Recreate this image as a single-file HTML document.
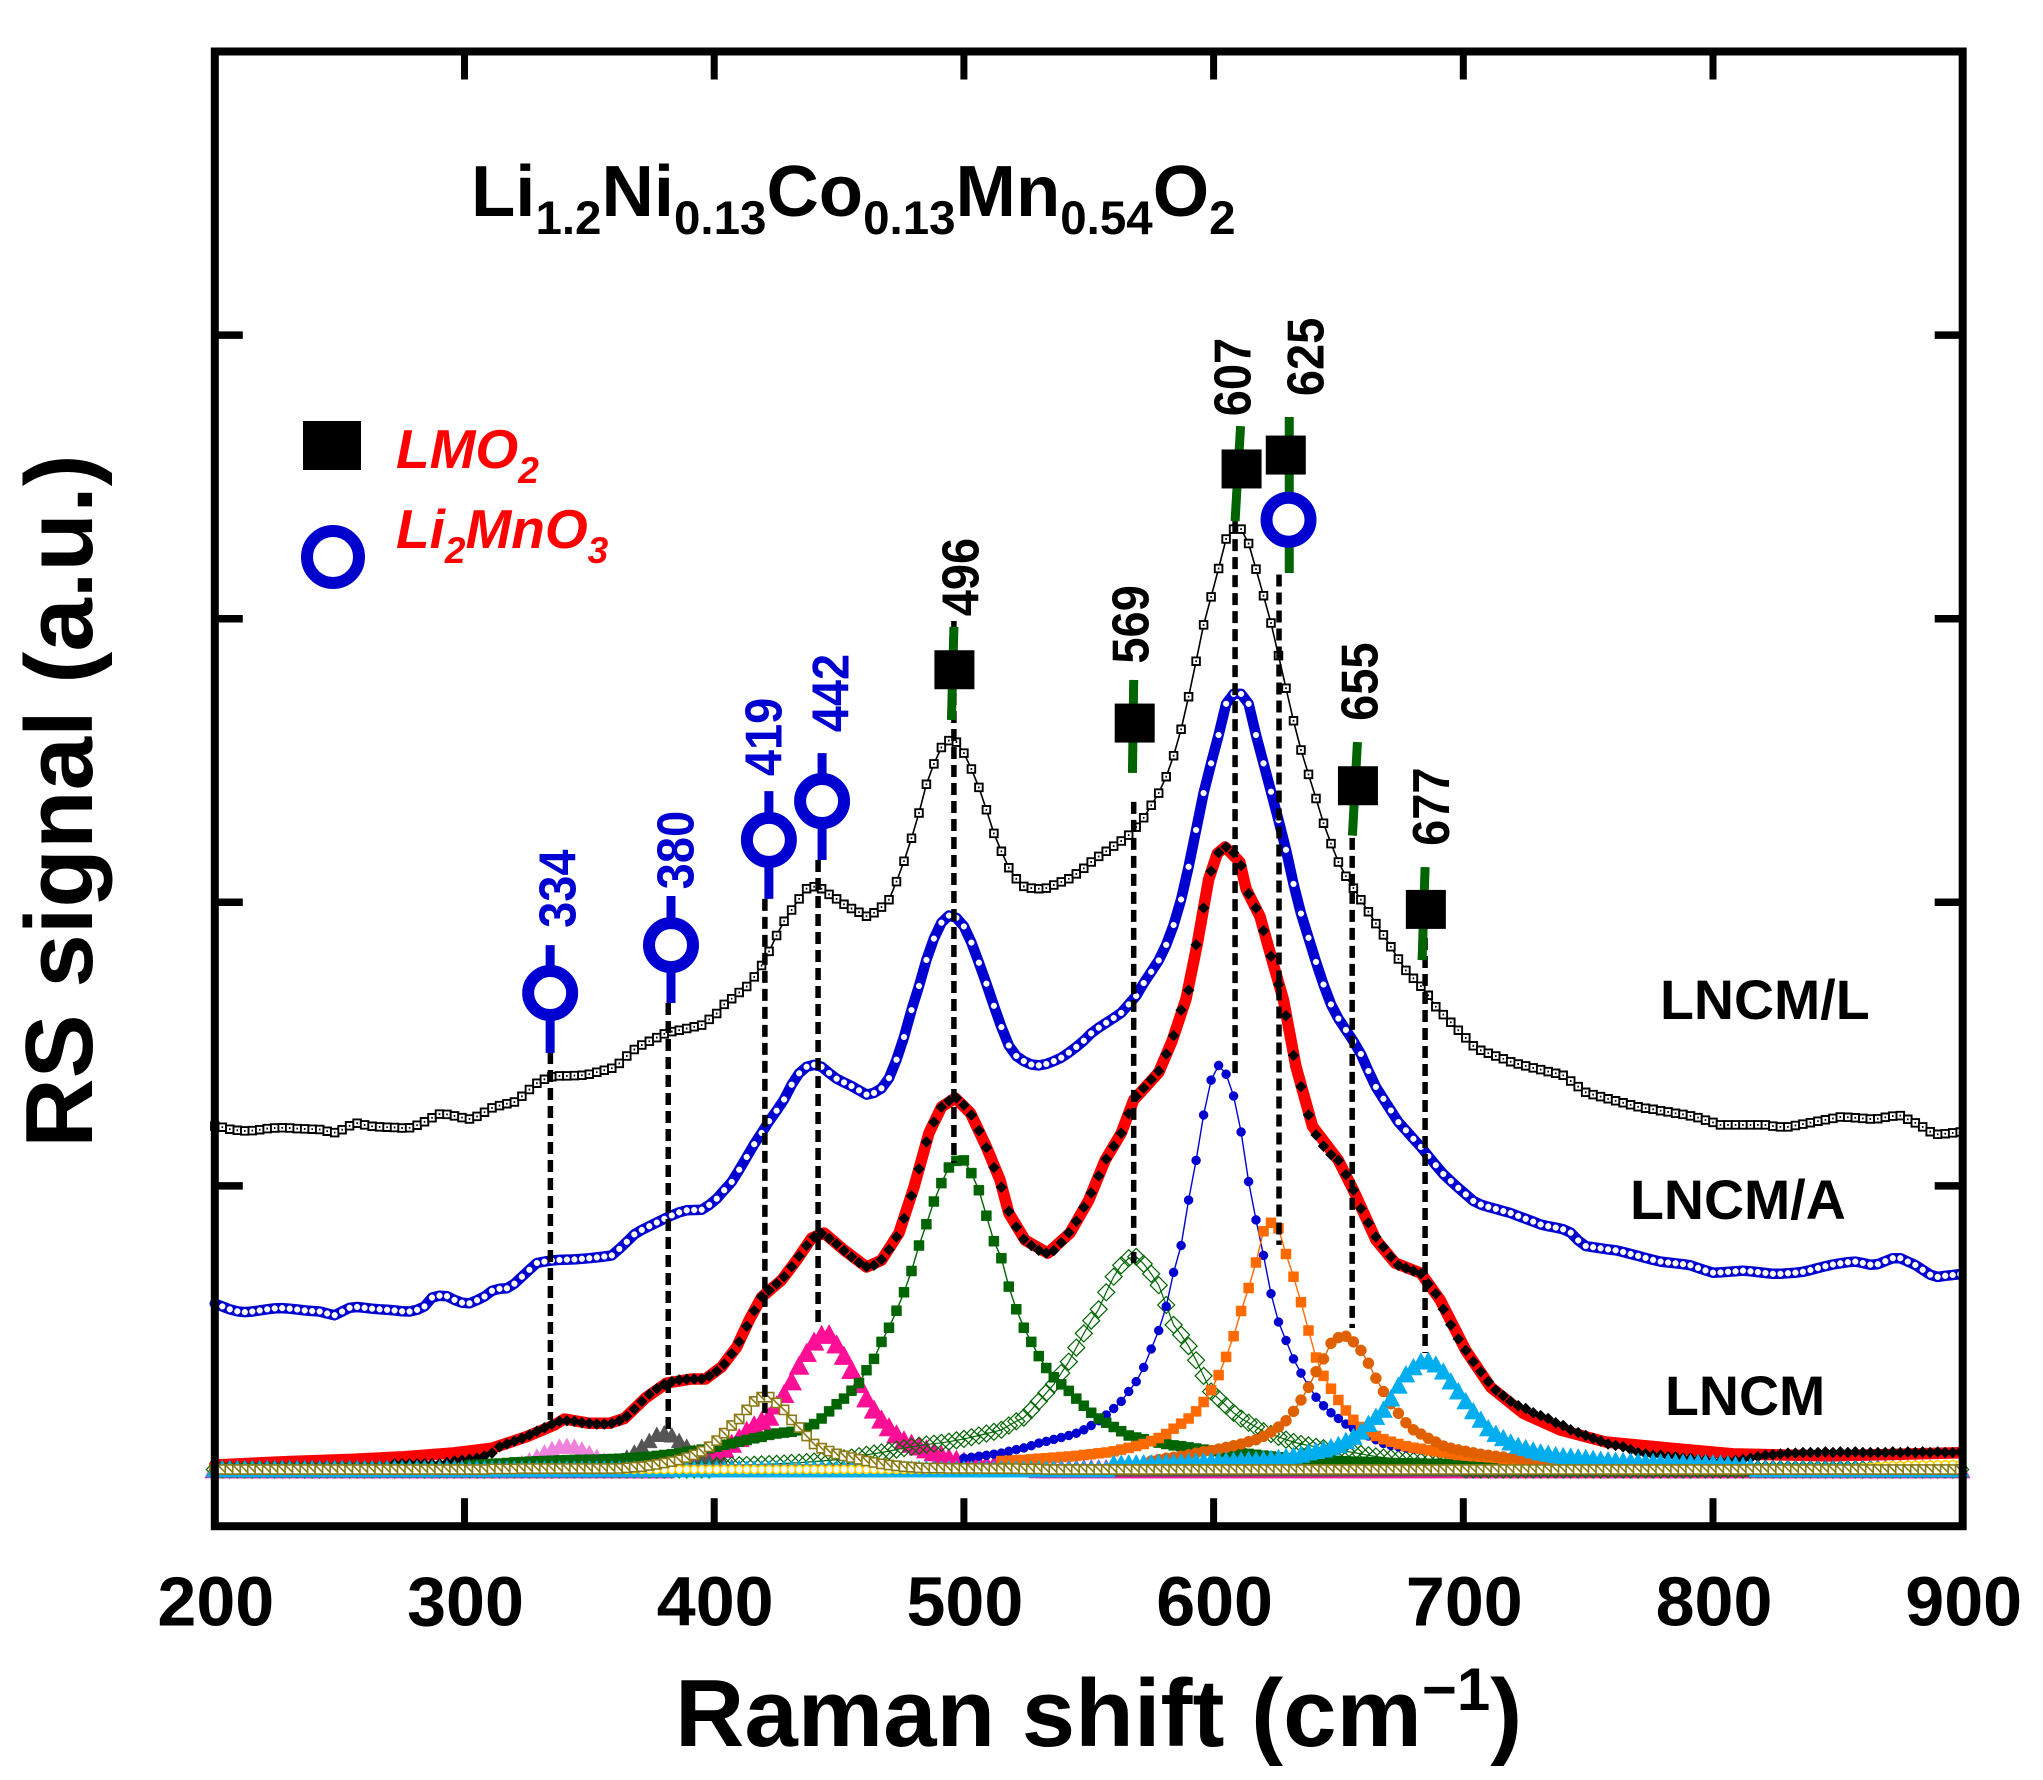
<!DOCTYPE html>
<html>
<head>
<meta charset="utf-8">
<title>Raman spectra of LNCM</title>
<style>
html,body{margin:0;padding:0;background:#fff;}
svg{display:block;}
text{font-family:"Liberation Sans",Arial,sans-serif;font-weight:bold;}
</style>
</head>
<body>
<svg id="chart" xmlns="http://www.w3.org/2000/svg" width="2043" height="1780" viewBox="0 0 2043 1780">
<rect x="0" y="0" width="2043" height="1780" fill="#fff"/>
<g id="lncm-l"></g>
<g id="lncm-a"></g>
<g id="lncm-fit"></g>
<g id="lncm-data"></g>
<g id="comp-hotpink"></g>
<g id="comp-violet"></g>
<g id="comp-gray"></g>
<g id="comp-opendiamond"></g>
<g id="comp-blue"></g>
<g id="comp-dkgreen"></g>
<g id="comp-orange"></g>
<g id="comp-dkorange"></g>
<g id="comp-cyan"></g>
<g id="comp-yellow"></g>
<g id="comp-olive"></g>
<g id="peak-lines"></g>
<g id="peak-stems"></g>
<g id="peak-markers"></g>
<g id="peak-labels"></g>
<g id="axes"></g>

<text transform="translate(92,801) rotate(-90)" text-anchor="middle" font-size="96" fill="#000">RS signal (a.u.)</text>
<text x="675" y="1746" font-size="96" fill="#000">Raman shift (cm<tspan font-size="60" dy="-36">−1</tspan><tspan dy="36">)</tspan></text>
<text x="471" y="216" font-size="72.5" fill="#000">Li<tspan font-size="47.5" dy="18">1.2</tspan><tspan dy="-18">Ni</tspan><tspan font-size="47.5" dy="18">0.13</tspan><tspan dy="-18">Co</tspan><tspan font-size="47.5" dy="18">0.13</tspan><tspan dy="-18">Mn</tspan><tspan font-size="47.5" dy="18">0.54</tspan><tspan dy="-18">O</tspan><tspan font-size="47.5" dy="18">2</tspan></text>

<rect x="303" y="421" width="58" height="49" fill="#000"/>
<text x="396" y="468" font-size="55" font-style="italic" fill="#ff0000">LMO<tspan font-size="37" dy="15">2</tspan></text>
<circle cx="333" cy="557" r="26" fill="none" stroke="#0000cc" stroke-width="12"/>
<text x="396" y="548" font-size="55" font-style="italic" fill="#ff0000">Li<tspan font-size="37" dy="15">2</tspan><tspan dy="-15">MnO</tspan><tspan font-size="37" dy="15">3</tspan></text>

<text x="1660" y="1019" font-size="55.5" fill="#000">LNCM/L</text>
<text x="1630" y="1219" font-size="55.5" fill="#000">LNCM/A</text>
<text x="1665" y="1415" font-size="55.5" fill="#000">LNCM</text>
</svg>

<script>
const xTicks=[200,300,400,500,600,700,800,900];
const yTicks=[1,2,3,4];

const shifts=[200,203,206,209,212,215,218,221,224,227,230,233,236,239,242,245,248,251,254,257,260,263,266,269,272,275,278,281,284,287,290,293,296,299,302,305,308,311,314,317,320,323,326,329,332,335,338,341,344,347,350,353,356,359,362,365,368,371,374,377,380,383,386,389,392,395,398,401,404,407,410,413,416,419,422,425,428,431,434,437,440,443,446,449,452,455,458,461,464,467,470,473,476,479,482,485,488,491,494,497,500,503,506,509,512,515,518,521,524,527,530,533,536,539,542,545,548,551,554,557,560,563,566,569,572,575,578,581,584,587,590,593,596,599,602,605,608,611,614,617,620,623,626,629,632,635,638,641,644,647,650,653,656,659,662,665,668,671,674,677,680,683,686,689,692,695,698,701,704,707,710,713,716,719,722,725,728,731,734,737,740,743,746,749,752,755,758,761,764,767,770,773,776,779,782,785,788,791,794,797,800,803,806,809,812,815,818,821,824,827,830,833,836,839,842,845,848,851,854,857,860,863,866,869,872,875,878,881,884,887,890,893,896,899];

const lncmLValues=[1.211,1.207,1.200,1.196,1.194,1.195,1.198,1.202,1.204,1.205,
1.204,1.202,1.201,1.200,1.199,1.193,1.188,1.198,1.212,1.221,
1.215,1.210,1.208,1.207,1.206,1.204,1.205,1.214,1.226,1.240,
1.253,1.252,1.247,1.241,1.236,1.245,1.260,1.275,1.283,1.290,
1.296,1.316,1.340,1.362,1.376,1.385,1.388,1.388,1.389,1.390,
1.394,1.401,1.408,1.415,1.432,1.458,1.481,1.497,1.510,1.523,
1.536,1.544,1.549,1.555,1.561,1.567,1.587,1.608,1.640,1.660,
1.682,1.703,1.737,1.777,1.827,1.883,1.933,1.973,2.012,2.048,
2.055,2.048,2.028,2.012,1.993,1.978,1.965,1.951,1.963,1.983,
2.009,2.073,2.145,2.226,2.315,2.416,2.488,2.546,2.570,2.565,
2.526,2.470,2.405,2.326,2.243,2.180,2.122,2.083,2.056,2.050,
2.048,2.050,2.061,2.072,2.083,2.100,2.120,2.142,2.162,2.180,
2.198,2.216,2.237,2.265,2.298,2.342,2.385,2.443,2.517,2.610,
2.725,2.850,2.978,3.077,3.177,3.281,3.316,3.316,3.265,3.175,
3.081,2.985,2.870,2.755,2.640,2.537,2.451,2.366,2.279,2.207,
2.142,2.092,2.050,2.009,1.967,1.925,1.885,1.843,1.800,1.760,
1.732,1.704,1.672,1.632,1.604,1.577,1.549,1.522,1.494,1.478,
1.468,1.458,1.448,1.438,1.430,1.423,1.416,1.410,1.403,1.397,
1.390,1.370,1.350,1.330,1.322,1.315,1.307,1.300,1.293,1.286,
1.279,1.274,1.270,1.265,1.261,1.256,1.252,1.247,1.241,1.232,
1.224,1.215,1.215,1.215,1.215,1.215,1.215,1.215,1.211,1.208,
1.208,1.213,1.218,1.223,1.228,1.233,1.238,1.243,1.242,1.240,
1.238,1.236,1.237,1.242,1.246,1.248,1.235,1.222,1.208,1.191,
1.182,1.184,1.187,1.190];

const lncmAValues=[.585,.575,.565,.558,.555,.557,.561,.565,.568,.569,
.567,.564,.561,.559,.557,.550,.544,.557,.570,.573,
.570,.567,.565,.563,.561,.558,.557,.563,.575,.606,
.613,.611,.598,.588,.586,.597,.610,.630,.637,.639,
.655,.680,.704,.728,.733,.737,.739,.740,.741,.743,
.745,.748,.751,.755,.778,.803,.829,.845,.858,.871,
.884,.896,.907,.914,.915,.916,.933,.955,.985,1.014,
1.057,1.102,1.147,1.187,1.228,1.265,1.305,1.357,1.397,1.420,
1.427,1.420,1.398,1.378,1.365,1.352,1.337,1.322,1.328,1.344,
1.380,1.445,1.525,1.620,1.705,1.797,1.872,1.928,1.953,1.945,
1.915,1.858,1.787,1.713,1.635,1.560,1.495,1.458,1.440,1.428,
1.425,1.430,1.440,1.452,1.470,1.490,1.512,1.538,1.558,1.575,
1.592,1.610,1.640,1.670,1.715,1.755,1.795,1.850,1.920,2.010,
2.125,2.255,2.385,2.490,2.590,2.700,2.735,2.735,2.700,2.590,
2.490,2.390,2.290,2.185,2.065,1.960,1.875,1.790,1.710,1.640,
1.590,1.550,1.510,1.465,1.405,1.349,1.307,1.266,1.225,1.196,
1.166,1.137,1.105,1.073,1.042,1.017,.993,.970,.947,.934,
.926,.919,.911,.904,.894,.884,.874,.864,.858,.853,
.847,.835,.808,.788,.784,.780,.776,.773,.767,.760,
.753,.746,.739,.733,.730,.727,.724,.720,.711,.702,
.694,.695,.697,.699,.701,.699,.696,.693,.690,.690,
.692,.694,.697,.703,.710,.717,.723,.727,.731,.733,
.728,.722,.724,.735,.745,.745,.733,.721,.704,.687,
.679,.683,.686,.689];

const fitShifts=[200,229,256,276,296,311,325,336,340,350,358,364,372.5,381,391,396.5,403,409,414,419,427,433,439,444,452,461,467,474,480,486,491,496.5,502.6,509,514.5,518,524.5,533.6,542.5,550,556.6,563,568,578,583.5,589,593.5,598,601.5,604.6,610.5,613,618.6,623,628,633,639.6,650,656,665,672.7,683,690.7,701,711,724,739,757,783,808,846.5,899];
const fitValues=[.016,.028,.036,.045,.059,.075,.116,.157,.178,.163,.163,.18,.252,.305,.319,.319,.362,.432,.527,.608,.668,.738,.816,.834,.774,.714,.738,.834,.996,1.186,1.278,1.31,1.257,1.137,1.02,.904,.809,.763,.834,.95,1.091,1.186,1.303,1.40,1.514,1.66,1.856,2.08,2.172,2.195,2.142,2.047,1.95,1.81,1.655,1.42,1.21,1.09,.985,.81,.728,.692,.598,.42,.29,.198,.139,.097,.075,.055,.048,.059];

const lncmStart=272;
const lncmValues=[.02,.02,.02,.02,.02,.02,.02,.025,.03,.033,.036,.04,.048,.058,.08,.09,.10,.11,.122,.135,.147,.16,.17,.172,.17,.165,.163,.160,.160,.163,.172,.188,.213,.24,.265,.285,.30,.31,.316,.318,.319,.319,.33,.347,.372,.408,.45,.505,.56,.61,.632,.655,.68,.715,.752,.79,.82,.832,.815,.795,.772,.75,.73,.715,.72,.74,.775,.82,.885,.965,1.06,1.155,1.225,1.278,1.30,1.31,1.285,1.25,1.195,1.135,1.065,.995,.91,.855,.812,.79,.773,.763,.772,.80,.835,.875,.925,.975,1.035,1.095,1.14,1.186,1.255,1.315,1.345,1.375,1.405,1.465,1.53,1.62,1.69,1.85,1.98,2.11,2.175,2.195,2.175,2.13,2.03,1.98,1.90,1.81,1.71,1.60,1.46,1.35,1.25,1.18,1.14,1.11,1.09,1.04,.985,.92,.87,.82,.785,.75,.72,.71,.70,.69,.655,.62,.565,.51,.46,.42,.38,.345,.31,.28,.26,.24,.225,.215,.20,.19,.18,.165,.155,.14,.13,.12,.11,.10,.09,.085,.08,.07,.06,.055,.05,.05,.045,.045,.04,.04,.035,.035,.03,.03,.03,.032,.035,.04,.045,.05,.052,.055,.058,.058,.06,.06,.06,.062,.06,.062,.06,.062,.06,.06,.06,.06,.062,.06,.062,.06,.062,.06,.062,.06,.06,.062];

const violetStart=311;
const violetValues=[.004,.006,.01,.015,.022,.032,.045,.06,.072,.08,.083,.08,.07,.058,.044,.032,.022,.014,.009,.005];
const grayStart=350;
const grayValues=[.005,.008,.012,.018,.028,.042,.06,.08,.10,.122,.128,.12,.10,.08,.06,.042,.028,.018,.012,.008,.005];
const oliveStart=311;
const oliveValues=[.002,.002,.002,.002,.003,.003,.003,.003,.003,.003,.003,.003,.003,.003,.003,.003,.003,.004,.006,.008,.01,.014,.018,.023,.028,.034,.042,.052,.064,.08,.102,.128,.155,.178,.21,.24,.255,.255,.235,.21,.175,.148,.118,.09,.075,.065,.055,.048,.042,.036,.03,.025,.02,.016,.013,.01,.008,.006,.005,.005,.005,.004,.004,.004,.004,.004,.003,.003,.003,.003,.003,.002,.002,.002];
const hotpinkStart=383;
const hotpinkValues=[.012,.015,.019,.024,.03,.04,.055,.072,.09,.11,.135,.155,.17,.185,.225,.265,.31,.365,.41,.45,.474,.476,.44,.40,.35,.30,.25,.21,.175,.148,.123,.102,.09,.08,.07,.06,.05,.04,.033,.027,.022,.018,.015,.012,.01,.008,.006,.005,.004];
const dkgreenStart=302;
const dkgreenValues=[.016,.017,.018,.02,.021,.023,.025,.026,.028,.029,.03,.031,.032,.033,.034,.034,.035,.035,.036,.037,.038,.04,.041,.043,.045,.048,.051,.054,.058,.062,.066,.07,.075,.08,.087,.092,.098,.104,.11,.115,.122,.127,.13,.133,.138,.147,.16,.18,.205,.23,.25,.278,.305,.35,.39,.45,.50,.56,.625,.70,.79,.865,.945,1.01,1.065,1.088,1.09,1.045,.985,.895,.805,.745,.645,.565,.50,.45,.40,.358,.325,.30,.277,.25,.225,.2,.18,.165,.15,.135,.12,.113,.107,.10,.095,.09,.085,.082,.078,.074,.07,.067,.064,.061,.059,.058,.055,.052,.049,.046,.043,.04,.038,.036,.034,.033,.032,.031,.03,.029,.028,.027,.026,.025,.024,.023,.022,.022,.021,.021,.02,.02,.02,.019,.018,.017,.016,.015,.014,.013,.012,.011];
const openDiamondStart=401;
const openDiamondValues=[.012,.013,.014,.015,.016,.017,.018,.019,.02,.021,.023,.024,.026,.028,.03,.032,.035,.039,.042,.047,.052,.056,.06,.065,.07,.075,.08,.084,.088,.091,.094,.098,.103,.108,.114,.12,.127,.133,.14,.155,.17,.183,.21,.24,.27,.30,.34,.38,.43,.48,.525,.565,.625,.68,.72,.745,.75,.725,.69,.65,.58,.51,.475,.435,.385,.33,.275,.25,.225,.20,.18,.165,.15,.135,.125,.115,.105,.097,.09,.085,.08,.075,.07,.067,.064,.06,.055,.05,.046,.042,.04,.036,.033,.03,.028,.025,.02,.018,.015,.012];
const blueStart=500;
const blueValues=[.04,.043,.047,.05,.054,.058,.064,.07,.076,.084,.093,.099,.106,.113,.12,.128,.14,.155,.172,.192,.215,.24,.275,.31,.36,.425,.49,.575,.695,.79,.95,1.09,1.25,1.373,1.425,1.394,1.317,1.19,1.015,.88,.755,.62,.52,.455,.39,.34,.295,.255,.225,.2,.18,.16,.145,.13,.118,.105,.092,.085,.08,.076,.073,.07,.068,.065,.06,.055,.05,.045,.04,.035,.031,.027,.024,.02,.017,.014,.012];
const orangeStart=515;
const orangeValues=[.03,.031,.033,.034,.036,.038,.04,.042,.044,.046,.048,.051,.054,.057,.06,.064,.07,.076,.083,.09,.1,.111,.125,.144,.162,.18,.205,.238,.28,.333,.397,.47,.559,.64,.73,.84,.87,.85,.76,.68,.59,.49,.395,.33,.285,.245,.208,.175,.15,.132,.118,.107,.098,.09,.082,.077,.073,.068,.064,.06,.055,.051,.049,.047,.045,.043,.041,.038,.035,.033,.03,.028,.027,.024,.022,.02,.018,.016,.014,.012,.01];
const dkorangeStart=575;
const dkorangeValues=[.03,.035,.04,.043,.047,.052,.058,.063,.067,.072,.078,.084,.09,.098,.105,.117,.132,.15,.172,.205,.245,.29,.345,.39,.445,.465,.47,.45,.42,.375,.322,.275,.232,.198,.165,.14,.125,.11,.097,.083,.075,.069,.064,.059,.054,.05,.047,.044,.04,.037,.034,.03,.027,.024,.022,.02,.018,.016,.014,.012];
const cyanStart=560;
const cyanValues=[.02,.02,.021,.021,.022,.022,.023,.024,.024,.025,.026,.027,.028,.029,.03,.03,.031,.032,.033,.033,.035,.037,.04,.044,.048,.052,.06,.065,.07,.078,.086,.1,.115,.133,.16,.185,.21,.25,.295,.335,.36,.38,.383,.37,.345,.31,.275,.24,.205,.175,.145,.125,.11,.095,.083,.075,.067,.06,.055,.05,.047,.045,.042,.04,.037,.034,.032,.03,.029,.028,.027,.026,.026,.025,.025,.024,.024,.023,.023,.022,.021,.02,.018,.015,.012,.01];
const yellowStart=854;
const yellowValues=[.002,.004,.006,.008,.01,.012,.014,.014,.015,.015,.016,.016,.017,.017,.018,.018];

const peakLabels=['334','380','419','442','496','569','607','625','655','677'];
const peakColors=['blue','blue','blue','blue','black','black','black','black','black','black'];
const lineShifts=[334.4,381.6,420.3,441.6,496,568,608.6,626.2,655.5,684.7];
const lineTops=[1.472,1.645,2.012,2.149,2.992,2.354,3.344,3.156,2.227,1.874];
const lineBottoms=[.175,.139,.199,.51,1.081,.728,1.391,.792,.499,.411];
const markerShifts=[334.3,382.7,421.9,443.2,496.2,568.4,611.2,628.9,657.8,685];
const markerValues=[1.68,1.849,2.22,2.357,2.82,2.632,3.528,3.577,2.411,1.975];
const stemTopShifts=[334.3,382.7,421.9,443.2,496,568,610.8,630.3,657.6,684.7];
const stemBottomShifts=[334.3,382.7,421.9,443.2,495,567.5,608.6,630.3,655.6,683.5];
const stemTops=[1.849,2.022,2.392,2.526,2.971,2.784,3.679,3.711,2.565,2.124];
const stemBottoms=[1.469,1.645,2.012,2.149,2.643,2.456,3.344,3.161,2.235,1.796];
const labelShifts=[337.4,384.7,420,446.8,498.7,566.9,607.8,636.9,658.6,687.3];
const labelValues=[2.048,2.184,2.583,2.738,3.147,2.98,3.852,3.923,2.778,2.337];
const extraCircleShift=[630];
const extraCircleValue=[3.349];

const NS='http://www.w3.org/2000/svg';
function x(v){return 1213.6+(v-600)*2.497;}
function y(v){return 1469.5-v*283.6;}
function windowed(values,start){
  return shifts.map(function(s){
    const k=(s-start)/3;
    return (k>=0&&k<values.length)?values[k]:0;
  });
}
function drawLine(groupId,xs,vs,color,width){
  const el=document.createElementNS(NS,'polyline');
  
  
  el.setAttribute('points',xs.map(function(s,i){return x(s).toFixed(1)+','+y(vs[i]).toFixed(1);}).join(' '));
  el.setAttribute('fill','none');
  el.setAttribute('stroke',color);
  el.setAttribute('stroke-width',width);
  el.setAttribute('stroke-linejoin','round');
  el.setAttribute('stroke-linecap','round');
  document.getElementById(groupId).appendChild(el);
}
function markerPath(shape,px,py,s){
  if(shape==='square')return 'M'+(px-s)+' '+(py-s)+'H'+(px+s)+'V'+(py+s)+'H'+(px-s)+'Z';
  if(shape==='diamond')return 'M'+px+' '+(py-s)+'L'+(px+s)+' '+py+'L'+px+' '+(py+s)+'L'+(px-s)+' '+py+'Z';
  if(shape==='triangle')return 'M'+px+' '+(py-s)+'L'+(px+s)+' '+(py+s*0.85)+'L'+(px-s)+' '+(py+s*0.85)+'Z';
  if(shape==='slash')return 'M'+(px-s)+' '+(py-s)+'H'+(px+s)+'V'+(py+s)+'H'+(px-s)+'Z'+'M'+(px-s)+' '+(py-s)+'L'+(px+s)+' '+(py+s);
  if(shape==='dotsquare')return 'M'+(px-s)+' '+(py-s)+'H'+(px+s)+'V'+(py+s)+'H'+(px-s)+'Z'+'M'+(px-0.8)+' '+py+'H'+(px+0.8);
  const r=s;
  return 'M'+(px-r)+' '+py+'A'+r+' '+r+' 0 1 0 '+(px+r)+' '+py+'A'+r+' '+r+' 0 1 0 '+(px-r)+' '+py+'Z';
}
function drawMarkers(groupId,xs,vs,shape,size,fill,stroke,strokeWidth){
  const g=document.getElementById(groupId);
  xs.forEach(function(s,i){
    const el=document.createElementNS(NS,'path');
    
    
    el.setAttribute('d',markerPath(shape,+x(s).toFixed(1),+y(vs[i]).toFixed(1),size));
    el.setAttribute('fill',fill);
    el.setAttribute('stroke',stroke);
    el.setAttribute('stroke-width',strokeWidth);
    g.appendChild(el);
  });
}

/* spectra */
drawLine('lncm-l',shifts,lncmLValues,'#000',1.6);
drawMarkers('lncm-l',shifts,lncmLValues,'dotsquare',3.8,'#fff','#000',1.9);
drawLine('lncm-a',shifts,lncmAValues,'#0000d0',10.5);
drawMarkers('lncm-a',shifts,lncmAValues,'circle',2.9,'#fff','#fff',0.4);
drawLine('lncm-fit',fitShifts,fitValues,'#ff0000',11.5);
const lncmShifts=shifts.filter(function(s){return s>=lncmStart;});
drawMarkers('lncm-data',lncmShifts,lncmValues,'diamond',5.5,'#000','#000',0.5);

/* fitted components */
const violetAll=windowed(violetValues,violetStart);
drawMarkers('comp-violet',shifts,violetAll,'triangle',8,'#ee82dd','#ee82dd',0.5);
const grayAll=windowed(grayValues,grayStart);
drawMarkers('comp-gray',shifts,grayAll,'triangle',8,'#555555','#555555',0.5);
const hotpinkAll=windowed(hotpinkValues,hotpinkStart);
drawMarkers('comp-hotpink',shifts,hotpinkAll,'triangle',10,'#ff0f96','#ff0f96',0.5);
const openDiamondAll=windowed(openDiamondValues,openDiamondStart);
drawLine('comp-opendiamond',shifts,openDiamondAll,'#006400',1.2);
drawMarkers('comp-opendiamond',shifts,openDiamondAll,'diamond',8.5,'none','#006400',1.2);
const blueAll=windowed(blueValues,blueStart);
drawLine('comp-blue',shifts,blueAll,'#0000d0',1.4);
drawMarkers('comp-blue',shifts,blueAll,'circle',4.5,'#0000d0','#0000d0',0.5);
const dkgreenAll=windowed(dkgreenValues,dkgreenStart);
drawLine('comp-dkgreen',shifts,dkgreenAll,'#006400',1.4);
drawMarkers('comp-dkgreen',shifts,dkgreenAll,'square',5,'#006400','#006400',0.5);
const orangeAll=windowed(orangeValues,orangeStart);
drawLine('comp-orange',shifts,orangeAll,'#ff6a00',1.4);
drawMarkers('comp-orange',shifts,orangeAll,'square',5,'#ff6a00','#ff6a00',0.5);
const dkorangeAll=windowed(dkorangeValues,dkorangeStart);
drawLine('comp-dkorange',shifts,dkorangeAll,'#e06000',1.4);
drawMarkers('comp-dkorange',shifts,dkorangeAll,'circle',5.5,'#e06000','#e06000',0.5);
const cyanAll=windowed(cyanValues,cyanStart);
drawMarkers('comp-cyan',shifts,cyanAll,'triangle',9,'#00aeef','#00aeef',0.5);
const yellowAll=windowed(yellowValues,yellowStart);
drawMarkers('comp-yellow',shifts,yellowAll,'circle',4,'#fff','#ffd400',1.6);
const oliveAll=windowed(oliveValues,oliveStart);
drawLine('comp-olive',shifts,oliveAll,'#8b7a14',1.4);
drawMarkers('comp-olive',shifts,oliveAll,'slash',4.6,'#fff','#8b7a14',1.6);

/* peak annotations */
peakLabels.forEach(function(label,i){
  const guide=document.createElementNS(NS,'line');
  
  
  guide.setAttribute('x1',x(lineShifts[i]));
  guide.setAttribute('x2',x(lineShifts[i]));
  guide.setAttribute('y1',y(lineTops[i]));
  guide.setAttribute('y2',y(lineBottoms[i]));
  guide.setAttribute('stroke','#000');
  guide.setAttribute('stroke-width',5.5);
  guide.setAttribute('stroke-dasharray','12 6');
  document.getElementById('peak-lines').appendChild(guide);

  const isBlue=peakColors[i]==='blue';
  const stem=document.createElementNS(NS,'line');
  
  
  stem.setAttribute('x1',x(stemTopShifts[i]));
  stem.setAttribute('x2',x(stemBottomShifts[i]));
  stem.setAttribute('y1',y(stemTops[i]));
  stem.setAttribute('y2',y(stemBottoms[i]));
  stem.setAttribute('stroke',isBlue?'#0000d0':'#006400');
  stem.setAttribute('stroke-width',9);
  document.getElementById('peak-stems').appendChild(stem);

  if(isBlue){
    const ring=document.createElementNS(NS,'circle');
    
    
    ring.setAttribute('cx',x(markerShifts[i]));
    ring.setAttribute('cy',y(markerValues[i]));
    ring.setAttribute('r',22);
    ring.setAttribute('fill','#fff');
    ring.setAttribute('stroke','#0000d0');
    ring.setAttribute('stroke-width',12);
    document.getElementById('peak-markers').appendChild(ring);
  }else{
    const sq=document.createElementNS(NS,'rect');
    
    
    sq.setAttribute('x',x(markerShifts[i])-20);
    sq.setAttribute('y',y(markerValues[i])-19.5);
    sq.setAttribute('width',40);
    sq.setAttribute('height',39);
    sq.setAttribute('fill','#000');
    document.getElementById('peak-markers').appendChild(sq);
  }

  const t=document.createElementNS(NS,'text');
  
  
  const lx=x(labelShifts[i]);
  const ly=y(labelValues[i]);
  t.setAttribute('transform','translate('+lx+','+ly+') rotate(-90) scale(1,1.1)');
  t.setAttribute('text-anchor','middle');
  t.setAttribute('y',16);
  t.setAttribute('font-size',47);
  t.setAttribute('fill',isBlue?'#0000d0':'#000');
  t.textContent=label;
  document.getElementById('peak-labels').appendChild(t);
});
extraCircleShift.forEach(function(s,i){
  const ring=document.createElementNS(NS,'circle');
  
  
  ring.setAttribute('cx',x(s));
  ring.setAttribute('cy',y(extraCircleValue[i]));
  ring.setAttribute('r',22);
  ring.setAttribute('fill','#fff');
  ring.setAttribute('stroke','#0000d0');
  ring.setAttribute('stroke-width',12);
  document.getElementById('peak-markers').appendChild(ring);
});

/* axes */
const axes=document.getElementById('axes');
const frame=document.createElementNS(NS,'rect');


frame.setAttribute('x',x(200));
frame.setAttribute('y',y(5));
frame.setAttribute('width',x(900)-x(200));
frame.setAttribute('height',y(-0.2)-y(5));
frame.setAttribute('fill','none');
frame.setAttribute('stroke','#000');
frame.setAttribute('stroke-width',8);
axes.appendChild(frame);
xTicks.forEach(function(v){
  if(v>200&&v<900){
    [[y(-0.2),y(-0.2)-28],[y(5),y(5)+28]].forEach(function(p){
      const tick=document.createElementNS(NS,'line');
      
      
      tick.setAttribute('x1',x(v));
      tick.setAttribute('x2',x(v));
      tick.setAttribute('y1',p[0]);
      tick.setAttribute('y2',p[1]);
      tick.setAttribute('stroke','#000');
      tick.setAttribute('stroke-width',7);
      axes.appendChild(tick);
    });
  }
  const lab=document.createElementNS(NS,'text');
  
  
  lab.setAttribute('x',x(v)+1);
  lab.setAttribute('y',1625.5);
  lab.setAttribute('text-anchor','middle');
  lab.setAttribute('font-size',70);
  lab.setAttribute('fill','#000');
  lab.textContent=String(v);
  axes.appendChild(lab);
});
yTicks.forEach(function(v){
  [[x(200),x(200)+28],[x(900),x(900)-28]].forEach(function(p){
    const tick=document.createElementNS(NS,'line');
    
    
    tick.setAttribute('x1',p[0]);
    tick.setAttribute('x2',p[1]);
    tick.setAttribute('y1',y(v));
    tick.setAttribute('y2',y(v));
    tick.setAttribute('stroke','#000');
    tick.setAttribute('stroke-width',7.5);
    axes.appendChild(tick);
  });
});
</script>
</body>
</html>
